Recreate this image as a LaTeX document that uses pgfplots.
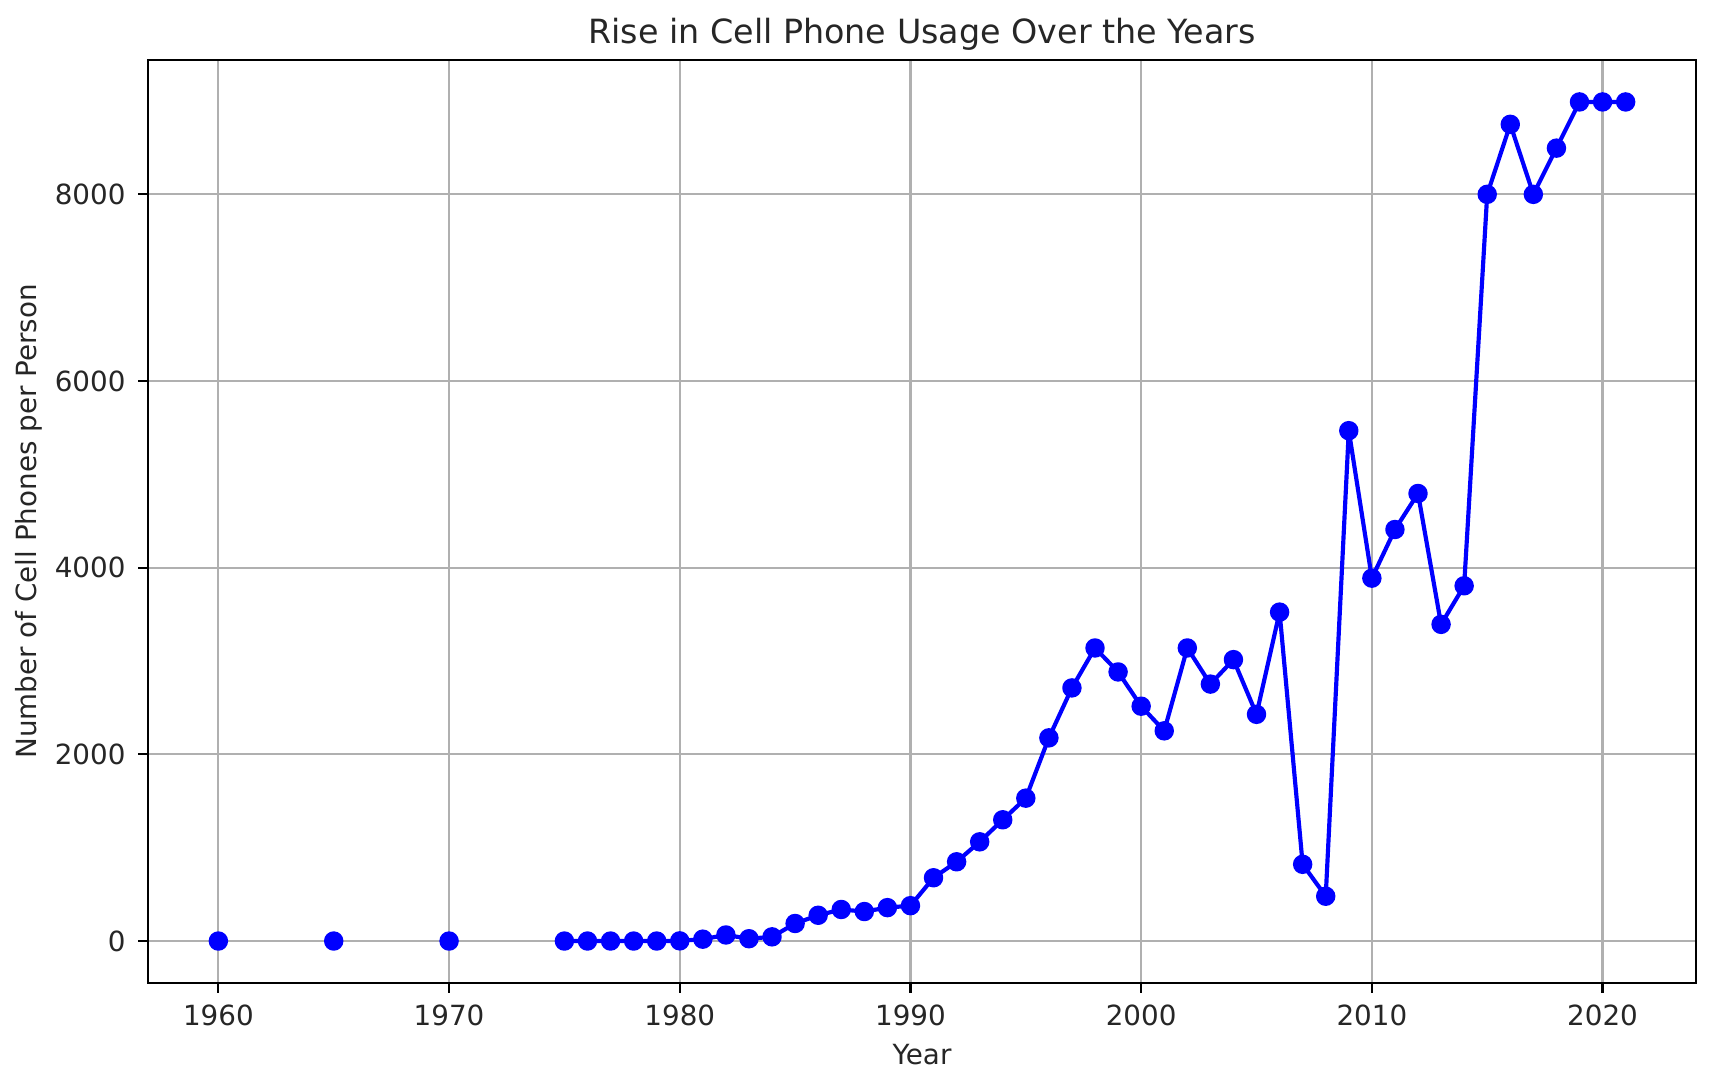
\documentclass[border=0pt]{standalone}
\usepackage{pgfplots}
\pgfplotsset{compat=1.18}
\usepackage{pgfplotstable}
\usepackage{fontspec}
\setmainfont{DejaVu Sans}
\pgfplotstableread{
year value
1960 0
1961 nan
1962 nan
1963 nan
1964 nan
1965 0
1966 nan
1967 nan
1968 nan
1969 nan
1970 0
1971 nan
1972 nan
1973 nan
1974 nan
1975 0
1976 0
1977 0
1978 0
1979 0
1980 2
1981 20
1982 65
1983 25
1984 45
1985 188
1986 276
1987 338
1988 316
1989 358
1990 379
1991 678
1992 849
1993 1063
1994 1299
1995 1531
1996 2177
1997 2712
1998 3140
1999 2883
2000 2516
2001 2252
2002 3140
2003 2753
2004 3015
2005 2429
2006 3524
2007 822
2008 480
2009 5468
2010 3888
2011 4409
2012 4795
2013 3393
2014 3806
2015 8000
2016 8750
2017 8000
2018 8495
2019 8990
2020 8990
2021 8990
}\datatable
\begin{document}
\begin{tikzpicture}
\useasboundingbox (0,0) rectangle (616.32pt,388.44pt);
\begin{axis}[
  at={(53.28pt,34.56pt)}, anchor=south west,
  scale only axis,
  width=557.28pt, height=332.28pt,
  xmin=1956.95, xmax=2024.05,
  ymin=-449.5, ymax=9439.5,
  unbounded coords=jump,
  xtick={1960,1970,1980,1990,2000,2010,2020},
  ytick={0,2000,4000,6000,8000},
  scaled y ticks=false,
  /pgf/number format/1000 sep={},
  /pgf/number format/assume math mode=true,
  tick label style={font=\fontsize{10}{12}\selectfont, text=black!85, inner sep=0pt},
  tick align=outside,
  tick pos=lower,
  major tick length=3.5pt,
  every tick/.style={black, line width=0.8pt},
  axis line style={black, line width=0.8pt},
  grid=major,
  major grid style={color=black!31, line width=0.8pt},
  xticklabel style={anchor=base, yshift=-11.8pt},
  yticklabel style={anchor=east, xshift=-4.4pt},
  title={Rise in Cell Phone Usage Over the Years},
  every axis title/.style={at={(0.5,1)}, anchor=base, yshift=6pt, font=\fontsize{12}{14}\selectfont, text=black!85},
  xlabel={Year},
  ylabel={Number of Cell Phones per Person},
  every axis x label/.style={at={(0.5,0)}, anchor=base, yshift=-29.5pt, font=\fontsize{10}{12}\selectfont, text=black!85},
  every axis y label/.style={at={(0,0.5)}, rotate=90, anchor=base, yshift=40.3pt, font=\fontsize{10}{12}\selectfont, text=black!85},
]
\addplot[color=blue, line width=1.5pt, line join=round, mark=*, mark size=3pt,
  mark options={fill=blue, draw=blue, line width=1pt}] table[x=year, y=value] {\datatable};
\end{axis}
\end{tikzpicture}
\end{document}
